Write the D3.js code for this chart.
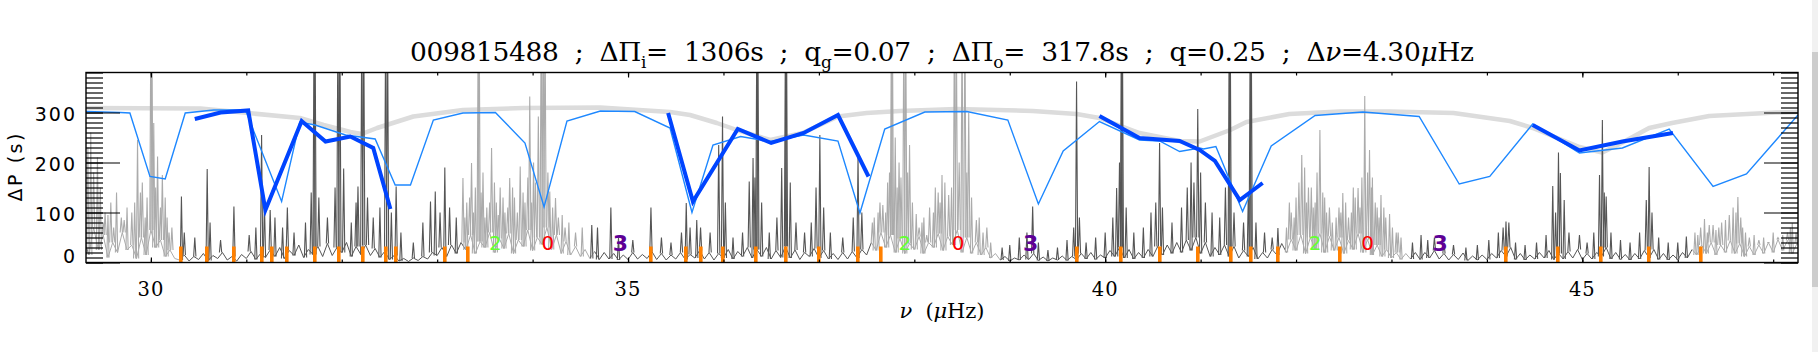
<!DOCTYPE html>
<html>
<head>
<meta charset="utf-8">
<script src="https://cdn.jsdelivr.net/npm/d3@7"></script>
<style>
  html, body { margin: 0; padding: 0; background: #fff; overflow: hidden; }
  svg { display: block; }
</style>
</head>
<body>
<svg width="1818" height="352"></svg>
<script>
// --- data ---
const xTicks = [30, 35, 40, 45];
const yTicks = [0, 100, 200, 300];

// frequency bands where the spectrum is drawn light grey (l=0,2 regions)
const lightBands = [[29.32, 30.25], [33.26, 34.60], [37.53, 38.86], [41.86, 43.16], [46.12, 47.26]];

// background noise of the spectrum, one value every 0.05 muHz from 29.30
const noiseStart = 29.30;
const noiseStep = 0.05;
const noiseVals = [
  45, 15, 70, 25, 55, 10, 40, 20, 60, 25, 35, 8, 50, 15, 65, 30, 45, 12, 25, 8,
  5, 15, 3, 12, 6, 18, 4, 14, 8, 20, 5, 12, 3, 16, 8, 22, 6, 18, 10, 25,
  12, 30, 8, 24, 14, 35, 10, 26, 16, 32, 12, 38, 14, 30, 20, 40, 12, 32, 16, 35,
  14, 28, 10, 22, 6, 14, 3, 8, 2, 9, 4, 12, 7, 20, 14, 30, 12, 35, 18, 40,
  25, 55, 18, 42, 30, 60, 20, 48, 28, 58, 18, 45, 32, 65, 24, 50, 36, 70, 26, 55,
  18, 42, 15, 32, 12, 26, 8, 22, 6, 20, 7, 18, 5, 15, 6, 20, 7, 16, 8, 22,
  6, 18, 5, 15, 7, 20, 6, 16, 9, 24, 7, 20, 5, 18, 9, 26, 7, 22, 12, 30,
  9, 26, 12, 30, 7, 24, 10, 32, 9, 25, 6, 20, 12, 28, 9, 24, 7, 18, 6, 20,
  7, 22, 9, 26, 15, 40, 24, 60, 30, 55, 20, 48, 18, 38, 26, 52, 18, 40, 30, 58,
  24, 52, 35, 65, 20, 50, 18, 40, 15, 30, 9, 18, 5, 12, 3, 9, 5, 15, 6, 18,
  4, 11, 3, 9, 5, 13, 4, 12, 6, 18, 7, 20, 6, 15, 9, 24, 12, 30, 9, 26,
  7, 20, 9, 26, 12, 32, 15, 35, 18, 40, 20, 45, 24, 50, 18, 40, 12, 30, 15, 35,
  12, 32, 9, 24, 12, 30, 7, 20, 9, 26, 15, 38, 20, 46, 24, 55, 18, 50, 26, 58,
  20, 52, 24, 50, 18, 44, 26, 58, 20, 46, 15, 35, 12, 26, 9, 20, 6, 18, 7, 20,
  6, 20, 9, 24, 7, 18, 5, 16, 6, 19, 4, 13, 5, 15, 6, 18, 9, 24, 12, 30,
  6, 18, 5, 15, 7, 20, 9, 24, 6, 18, 7, 22, 9, 26, 6, 18, 7, 20, 12, 30,
  7, 20, 6, 16, 5, 18, 7, 24, 9, 26, 6, 18, 5, 15, 6, 20, 9, 26, 15, 35,
  18, 40, 15, 35, 20, 44, 18, 38, 12, 32, 15, 35, 18, 40, 20, 46, 24, 44, 18, 38,
  24
];

// spectrum peaks (frequency in muHz, height); 500 = off the top
const peakNu = [
  29.34, 29.37, 29.40, 29.44, 29.47, 29.52, 29.58, 29.64, 29.69, 29.75, 29.80, 29.86, 29.91, 29.96, 30.00, 30.01, 30.03, 30.07, 30.12, 30.17, 30.22,
  30.32, 30.35, 30.46, 30.59, 30.62, 30.73, 30.87, 31.03, 31.10, 31.16, 31.19, 31.25, 31.30, 31.38, 31.43, 31.50, 31.62, 31.68, 31.71, 31.72, 31.76,
  31.85, 31.93, 31.96, 31.98, 32.02, 32.10, 32.15, 32.17, 32.21, 32.23, 32.27, 32.33, 32.40, 32.46, 32.48, 32.52, 32.57, 32.62, 32.75, 32.85, 32.93,
  32.98, 33.03, 33.08, 33.13, 33.20,
  33.27, 33.31, 33.36, 33.40, 33.43, 33.44, 33.48, 33.52, 33.57, 33.62, 33.66, 33.71, 33.76, 33.81, 33.87, 33.92, 33.97, 34.01, 34.06, 34.09, 34.11,
  34.13, 34.18, 34.24, 34.31, 34.38, 34.45, 34.52,
  34.62, 34.68, 34.82, 34.90, 35.05, 35.24, 35.35, 35.45, 35.56, 35.61, 35.65, 35.72, 35.76, 35.86, 35.95, 35.99, 36.02, 36.10, 36.20, 36.27, 36.31,
  36.33, 36.35, 36.36, 36.40, 36.48, 36.56, 36.61, 36.65, 36.66, 36.70, 36.76, 36.85, 36.92, 36.97, 37.01, 37.05, 37.12, 37.25, 37.36, 37.41, 37.45,
  37.56, 37.62, 37.67, 37.72, 37.76, 37.77, 37.80, 37.84, 37.89, 37.91, 37.95, 38.02, 38.08, 38.13, 38.20, 38.25, 38.29, 38.36, 38.42, 38.44, 38.47,
  38.50, 38.53, 38.57, 38.65, 38.72, 38.80,
  38.92, 39.00, 39.10, 39.18, 39.24, 39.30, 39.40, 39.50, 39.60, 39.67, 39.70, 39.73, 39.80, 39.90, 40.00, 40.08, 40.12, 40.15, 40.17, 40.18, 40.22,
  40.30, 40.40, 40.48, 40.53, 40.57, 40.60, 40.70, 40.80, 40.86, 40.90, 40.93, 40.97, 41.00, 41.05, 41.12, 41.20, 41.26, 41.30, 41.31, 41.35, 41.45,
  41.50, 41.52, 41.53, 41.58, 41.67, 41.75, 41.81,
  41.90, 41.93, 41.98, 42.03, 42.06, 42.09, 42.13, 42.18, 42.22, 42.25, 42.28, 42.32, 42.38, 42.45, 42.49, 42.55, 42.60, 42.65, 42.69, 42.72, 42.75,
  42.77, 42.80, 42.85, 42.89, 42.94, 42.98, 43.05, 43.10,
  43.22, 43.31, 43.38, 43.45, 43.55, 43.65, 43.78, 43.90, 44.02, 44.12, 44.17, 44.20, 44.23, 44.30, 44.40, 44.52, 44.62, 44.69, 44.72, 44.75, 44.77,
  44.81, 44.86, 44.97, 45.05, 45.12, 45.18, 45.21, 45.23, 45.25, 45.30, 45.40, 45.50, 45.60, 45.67, 45.70, 45.73, 45.80, 45.90, 46.00, 46.09,
  46.18, 46.24, 46.28, 46.33, 46.40, 46.46, 46.54, 46.58, 46.63, 46.68, 46.75, 46.85, 46.95, 47.05, 47.15, 47.20, 47.24
];
const peakHeight = [
  230, 260, 180, 210, 150, 100, 120, 140, 90, 110, 100, 245, 160, 130, 500, 500, 279, 212, 175, 90, 70,
  132, 60, 50, 187, 80, 45, 112, 55, 70, 255, 120, 105, 90, 70, 110, 60, 80, 140, 500, 500, 130,
  90, 150, 500, 500, 188, 80, 120, 152, 500, 500, 130, 90, 110, 500, 500, 100, 152, 60, 40, 80, 122,
  142, 100, 190, 110, 90,
  169, 120, 199, 150, 500, 500, 180, 110, 229, 120, 150, 100, 169, 130, 192, 120, 332, 200, 292, 500, 500,
  500, 142, 129, 95, 80, 60, 70,
  75, 70, 110, 50, 45, 110, 50, 40, 60, 119, 70, 85, 70, 60, 235, 292, 120, 50, 60, 162, 209,
  170, 500, 500, 120, 60, 90, 189, 500, 500, 160, 80, 60, 80, 150, 255, 110, 60, 50, 90, 212, 100,
  80, 100, 115, 160, 500, 500, 250, 200, 500, 500, 235, 97, 80, 55, 100, 140, 175, 135, 500, 500, 200,
  500, 500, 300, 85, 60, 40,
  30, 35, 50, 60, 112, 40, 25, 30, 45, 70, 362, 90, 40, 50, 60, 90, 149, 200, 500, 500, 110,
  60, 70, 100, 120, 239, 110, 80, 110, 150, 200, 160, 307, 180, 120, 100, 90, 150, 500, 500, 100, 80,
  140, 500, 500, 80, 60, 50, 69,
  70, 120, 90, 160, 215, 190, 150, 110, 180, 265, 140, 100, 80, 110, 139, 90, 150, 149, 170, 333, 180,
  225, 170, 110, 135, 90, 97, 60, 50,
  40, 55, 45, 50, 40, 35, 30, 35, 45, 60, 70, 82, 80, 40, 35, 40, 55, 153, 100, 220, 179,
  125, 60, 55, 40, 60, 175, 285, 140, 132, 60, 45, 40, 60, 125, 191, 100, 50, 40, 40, 52,
  60, 70, 87, 75, 65, 80, 95, 110, 131, 70, 50, 45, 40, 50, 60, 79, 60
];

// smaller peaks filling the l=0,2 regions
const fillNu = [
  29.50, 29.55, 29.61, 29.72, 29.83, 29.89, 29.94, 30.05, 30.10, 30.15, 30.19,
  33.29, 33.34, 33.38, 33.46, 33.50, 33.55, 33.60, 33.64, 33.69, 33.74, 33.79, 33.84, 33.90, 33.95, 33.99, 34.03, 34.16, 34.21, 34.27, 34.34,
  37.58, 37.64, 37.70, 37.74, 37.82, 37.86, 37.93, 37.98, 38.05, 38.10, 38.16, 38.22, 38.27, 38.32, 38.39, 38.55, 38.60, 38.68, 38.76,
  41.95, 42.00, 42.11, 42.16, 42.20, 42.30, 42.35, 42.42, 42.47, 42.52, 42.58, 42.62, 42.67, 42.79, 42.83, 42.87, 42.92, 43.01, 43.07,
  46.21, 46.31, 46.37, 46.43, 46.50, 46.61, 46.66, 46.71, 46.80, 46.90, 47.00, 47.10, 47.18
];
const fillHeight = [
  80, 95, 70, 85, 120, 140, 90, 150, 110, 130, 60,
  90, 130, 100, 140, 90, 120, 160, 95, 130, 110, 150, 100, 140, 170, 120, 160, 180, 110, 90, 70,
  90, 120, 100, 180, 150, 170, 180, 120, 70, 90, 110, 150, 120, 160, 150, 180, 130, 90, 70,
  100, 130, 120, 150, 120, 130, 110, 90, 100, 120, 100, 130, 110, 150, 120, 90, 110, 70, 60,
  55, 60, 75, 70, 85, 100, 90, 60, 55, 50, 60, 55, 70
];

// model period spacing (thin blue)
const modelNu = [29.32, 29.68, 29.78, 29.99, 30.15, 30.36, 30.66, 30.99, 31.37, 31.56, 31.72, 32.04, 32.35, 32.56, 32.72, 32.96, 33.27, 33.61, 33.92,
  34.12, 34.36, 34.71, 35.07, 35.44, 35.67, 35.89, 36.18, 36.49, 36.84, 37.20, 37.43, 37.69, 38.11, 38.55, 38.98, 39.30, 39.56, 39.94, 40.36, 40.57,
  40.78, 40.99, 41.03, 41.16, 41.44, 41.74, 42.20, 42.70, 43.29, 43.71, 44.03, 44.48, 44.97, 45.42, 45.91, 46.37, 46.72, 47.26];
const modelDP = [302, 300, 299, 172, 167, 299, 305, 305, 122, 281, 275, 255, 247, 155, 155, 285, 299, 300, 239,
  111, 283, 303, 302, 269, 100, 235, 252, 242, 255, 243, 99, 267, 301, 302, 285, 117, 223, 282, 245, 243,
  222, 229, 227, 232, 102, 233, 294, 301, 292, 157, 172, 277, 219, 229, 267, 152, 177, 295];

// asymptotic envelope (thick light grey)
const envNu = [29.32, 30.52, 31.56, 31.81, 32.09, 32.21, 32.37, 32.75, 33.27, 33.90, 34.71, 35.44, 35.65, 35.93, 36.14, 36.49, 36.83, 37.20, 37.50,
  37.85, 38.44, 39.24, 39.70, 39.94, 40.36, 40.78, 40.99, 41.31, 41.48, 41.93, 42.46, 42.98, 43.65, 44.24, 44.48, 44.97, 45.21, 45.42, 45.70, 45.94,
  46.33, 47.03, 47.26];
const envDP = [309, 308, 289, 275, 261, 257, 269, 292, 305, 309, 310, 301, 295, 279, 265, 245, 259, 292, 299,
  303, 307, 303, 297, 289, 259, 243, 242, 265, 281, 297, 302, 302, 299, 283, 269, 231, 220, 240, 269, 279,
  293, 300, 301];

// observed period spacings (thick blue), one segment per group
const obsGroup = [0, 0, 0, 0, 0, 0, 0, 0, 0, 1, 1, 1, 1, 1, 1, 1, 2, 2, 2, 2, 2, 2, 2, 3, 3, 3, 3];
const obsNu = [30.46, 30.73, 31.02, 31.20, 31.58, 31.83, 32.09, 32.33, 32.51,
  35.42, 35.68, 36.15, 36.50, 36.84, 37.20, 37.52,
  39.94, 40.36, 40.78, 40.99, 41.15, 41.41, 41.65,
  44.48, 44.97, 45.42, 45.95];
const obsDP = [287, 300, 304, 105, 283, 242, 252, 229, 107,
  299, 122, 267, 239, 259, 295, 172,
  293, 249, 243, 225, 203, 125, 159,
  275, 224, 242, 259];

// l=1 mixed mode frequencies (orange marks)
const mixedNu = [30.32, 30.59, 30.87, 31.16, 31.27, 31.43, 31.72, 31.97, 32.22, 32.46, 32.57, 33.08, 33.32, 35.24, 35.61, 35.76, 35.99, 36.34,
  36.66, 37.00, 37.41, 37.65, 39.70, 40.17, 40.57, 40.97, 41.32, 41.53, 41.81, 42.46, 44.20, 44.75, 45.20, 45.70, 46.24];
const mixedMark = 32;

// degree labels
const degreeNu = [33.61, 34.16, 34.92, 37.90, 38.46, 39.22, 42.20, 42.75, 43.51];
const degreeText = ['2', '0', '3', '2', '0', '3', '2', '0', '3'];
const degreeLevel = 39;
const degreeColor = { '2': '#66ff33', '0': '#ff0000', '3': '#5e0096' };

// --- layout ---
const margin = { left: 86, right: 20, top: 72.5, bottom: 89.5 };
const W = 1818, H = 352;
const x0 = margin.left, x1 = W - margin.right, y0 = margin.top, y1 = H - margin.bottom;

const svg = d3.select('svg');

const x = d3.scaleLinear().domain([29.32, 47.26]).range([x0, x1]);
const y = d3.scaleLinear().domain([0, 380]).range([y1, y0]);

const isLight = nu => lightBands.some(b => nu >= b[0] && nu <= b[1]);
const noiseAt = nu => noiseVals[Math.round((nu - noiseStart) / noiseStep)] || 0;
const dark = '#555555', light = '#ababab';

svg.append('clipPath').attr('id', 'plot')
  .append('rect').attr('x', x0).attr('y', y0).attr('width', x1 - x0).attr('height', y1 - y0);

const plot = svg.append('g').attr('clip-path', 'url(#plot)');
const line = d3.line().x(d => x(d[0])).y(d => y(d[1]));

// grey envelope
plot.append('path')
  .datum(envNu.map((n, i) => [n, envDP[i]]))
  .attr('d', line)
  .attr('fill', 'none')
  .attr('stroke', '#dcdcdc')
  .attr('stroke-width', 4.5)
  .attr('stroke-linejoin', 'round');

// spectrum noise, split into light / dark runs
const noisePts = noiseVals.map((v, i) => [noiseStart + i * noiseStep, v]);
const runs = [];
noisePts.forEach(p => {
  const l = isLight(p[0]);
  const last = runs[runs.length - 1];
  if (!last || last.light !== l) {
    if (last) last.pts.push(p);
    runs.push({ light: l, pts: [p] });
  } else last.pts.push(p);
});
plot.selectAll('path.noise')
  .data(runs)
  .enter()
  .append('path')
  .attr('class', 'noise')
  .attr('d', d => line(d.pts))
  .attr('fill', 'none')
  .attr('stroke', d => (d.light ? light : dark))
  .attr('stroke-width', 1);

// spectrum peaks, rising from the local noise level
const hw = 0.012;
const peaks = peakNu.map((n, i) => [n, peakHeight[i]])
  .concat(fillNu.map((n, i) => [n, fillHeight[i]]));
plot.selectAll('path.peak')
  .data(peaks)
  .enter()
  .append('path')
  .attr('class', 'peak')
  .attr('d', d => {
    const base = noiseAt(d[0]);
    return line([[d[0] - hw, base], [d[0], d[1]], [d[0] + hw, base]]);
  })
  .attr('fill', 'none')
  .attr('stroke', d => (isLight(d[0]) ? light : dark))
  .attr('stroke-width', 1.1);

// model period spacing
plot.append('path')
  .datum(modelNu.map((n, i) => [n, modelDP[i]]))
  .attr('d', line)
  .attr('fill', 'none')
  .attr('stroke', '#1e88ff')
  .attr('stroke-width', 1.4);

// observed period spacing
const groups = d3.groups(obsNu.map((n, i) => [n, obsDP[i], obsGroup[i]]), d => d[2]);
plot.selectAll('path.obs')
  .data(groups)
  .enter()
  .append('path')
  .attr('class', 'obs')
  .attr('d', d => line(d[1]))
  .attr('fill', 'none')
  .attr('stroke', '#0044ff')
  .attr('stroke-width', 4);

// mixed modes
plot.selectAll('rect.mixed')
  .data(mixedNu)
  .enter()
  .append('rect')
  .attr('class', 'mixed')
  .attr('x', d => Math.round(x(d)) - 2)
  .attr('y', y(mixedMark))
  .attr('width', 3.6)
  .attr('height', y(0) - y(mixedMark))
  .attr('fill', '#ff8000');

// degree labels
plot.selectAll('text.deg')
  .data(degreeNu.map((n, i) => [n, degreeText[i]]))
  .enter()
  .append('text')
  .attr('class', 'deg')
  .attr('x', d => x(d[0]))
  .attr('y', y(degreeLevel))
  .attr('dy', '0.36em')
  .attr('text-anchor', 'middle')
  .style('font-family', 'DejaVu Sans, sans-serif')
  .style('font-size', d => (d[1] === '3' ? '22px' : '20px'))
  .style('font-weight', d => (d[1] === '3' ? 'bold' : 'normal'))
  .attr('fill', d => degreeColor[d[1]])
  .text(d => d[1]);

// --- axes ---
const yMinor = d3.range(0, 381, 10);
const xMinor = d3.range(30, 48, 1);

const axisStyle = g => {
  g.select('.domain').remove();
  g.selectAll('.tick line').attr('stroke', '#000').attr('stroke-width', 1.2);
};

svg.append('g').attr('transform', `translate(${x0},0)`)
  .call(d3.axisLeft(y).tickValues(yMinor).tickSize(-17).tickFormat(''))
  .call(axisStyle);
svg.append('g').attr('transform', `translate(${x0},0)`)
  .call(d3.axisLeft(y).tickValues(yTicks).tickSize(-34).tickFormat(''))
  .call(axisStyle);
svg.append('g').attr('transform', `translate(${x1},0)`)
  .call(d3.axisRight(y).tickValues(yMinor).tickSize(-17).tickFormat(''))
  .call(axisStyle);
svg.append('g').attr('transform', `translate(${x1},0)`)
  .call(d3.axisRight(y).tickValues(yTicks).tickSize(-34).tickFormat(''))
  .call(axisStyle);

svg.append('g').attr('transform', `translate(0,${y1})`)
  .call(d3.axisBottom(x).tickValues(xMinor).tickSize(-3).tickFormat(''))
  .call(axisStyle);
svg.append('g').attr('transform', `translate(0,${y1})`)
  .call(d3.axisBottom(x).tickValues(xTicks).tickSize(-5).tickFormat(''))
  .call(axisStyle);
svg.append('g').attr('transform', `translate(0,${y0})`)
  .call(d3.axisTop(x).tickValues(xMinor).tickSize(-3).tickFormat(''))
  .call(axisStyle);
svg.append('g').attr('transform', `translate(0,${y0})`)
  .call(d3.axisTop(x).tickValues(xTicks).tickSize(-5).tickFormat(''))
  .call(axisStyle);

svg.append('rect')
  .attr('x', x0).attr('y', y0)
  .attr('width', x1 - x0).attr('height', y1 - y0)
  .attr('fill', 'none').attr('stroke', '#000').attr('stroke-width', 1.4);

// tick labels
svg.selectAll('text.xt')
  .data(xTicks)
  .enter()
  .append('text')
  .attr('class', 'xt')
  .attr('x', d => x(d))
  .attr('y', y1 + 33)
  .attr('text-anchor', 'middle')
  .style('font-family', 'DejaVu Serif, serif')
  .style('font-size', '19.5px')
  .style('letter-spacing', '1px')
  .text(d => d);

svg.selectAll('text.yt')
  .data(yTicks)
  .enter()
  .append('text')
  .attr('class', 'yt')
  .attr('x', x0 - 9)
  .attr('y', d => y(d) + (d === 0 ? -6 : 2))
  .attr('dy', '0.36em')
  .attr('text-anchor', 'end')
  .style('font-family', 'DejaVu Sans, sans-serif')
  .style('font-size', '19px')
  .style('letter-spacing', '2px')
  .text(d => d);

// axis titles
svg.append('text')
  .attr('transform', `translate(22,${(y0 + y1) / 2}) rotate(-90)`)
  .attr('text-anchor', 'middle')
  .attr('textLength', 68)
  .style('font-family', 'DejaVu Sans, sans-serif')
  .style('font-size', '19px')
  .style('white-space', 'pre')
  .text('ΔP (s)');

const xl = svg.append('text')
  .attr('x', (x0 + x1) / 2)
  .attr('y', 318)
  .attr('text-anchor', 'middle')
  .attr('textLength', 85)
  .style('font-family', 'DejaVu Serif, serif')
  .style('font-size', '21px')
  .style('white-space', 'pre');
xl.append('tspan').style('font-style', 'italic').text('ν');
xl.append('tspan').text('  (');
xl.append('tspan').style('font-style', 'italic').text('μ');
xl.append('tspan').text('Hz)');

// title
const titleParts = [
  ['009815488  ;  ΔΠ'], ['i', 'sub'], ['=  1306s  ;  q'], ['g', 'sub'], ['=0.07  ;  ΔΠ'], ['o', 'sub'],
  ['=  317.8s  ;  q=0.25  ;  Δ'], ['ν', 'it'], ['=4.30'], ['μ', 'it'], ['Hz']
];
const title = svg.append('text')
  .attr('x', (x0 + x1) / 2)
  .attr('y', 61)
  .attr('text-anchor', 'middle')
  .attr('textLength', 1064)
  .attr('lengthAdjust', 'spacing')
  .style('font-family', 'DejaVu Serif, serif')
  .style('font-size', '26.5px')
  .style('white-space', 'pre');
let down = false;
titleParts.forEach(([t, kind]) => {
  const ts = title.append('tspan').text(t);
  if (kind === 'sub') {
    ts.attr('dy', 7).style('font-size', '17px');
    down = true;
  } else if (down) {
    ts.attr('dy', -7);
    down = false;
  }
  if (kind === 'it') ts.style('font-style', 'italic');
});

// browser scrollbar strip seen at the right edge of the capture
svg.append('rect').attr('x', 1812).attr('y', 0).attr('width', 6).attr('height', H).attr('fill', '#f1f1f1');
svg.append('rect').attr('x', 1812).attr('y', 52).attr('width', 6).attr('height', 235).attr('fill', '#cdcdcd');
</script>
</body>
</html>
